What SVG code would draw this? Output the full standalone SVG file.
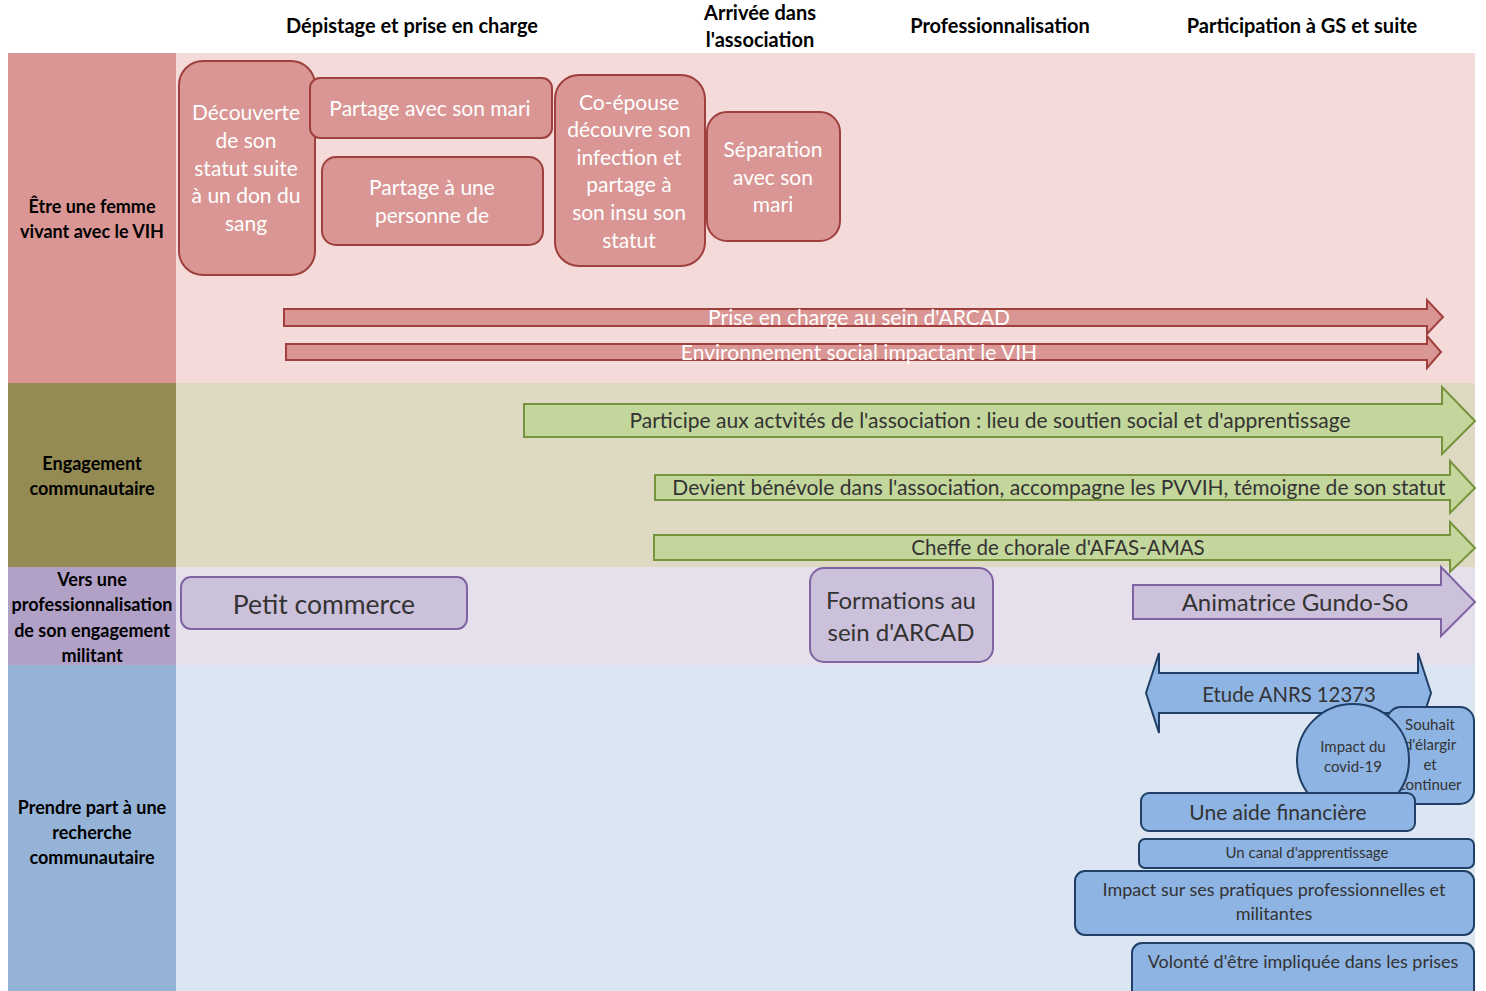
<svg xmlns="http://www.w3.org/2000/svg" width="1486" height="991" viewBox="0 0 1486 991">
<style>
text{font-family:Lato,"Liberation Sans",sans-serif;text-anchor:middle}
.hd{font-weight:bold;font-size:20px;fill:#000}
.lb{font-weight:bold;font-size:18px;fill:#000}
.rn{fill:#D99694;stroke:#A0403E;stroke-width:2}
.rt{fill:#fff;font-size:21px}
.ga{fill:#C3D69B;stroke:#77933C;stroke-width:2}
.gt{fill:#333;font-size:21px}
.pn{fill:#CCC1DA;stroke:#8064A2;stroke-width:2}
.pt{fill:#333;font-size:24px}
.bn{fill:#8EB4E3;stroke:#1F3F66;stroke-width:2}
.bt{fill:#333}
</style>
<rect width="1486" height="991" fill="#fff"/>
<g id="bands">
<rect x="176" y="53" width="1299" height="330" fill="#F4DAD9"/>
<rect x="176" y="383" width="1299" height="184" fill="#DDD9C3"/>
<rect x="176" y="567" width="1299" height="98" fill="#E5E0EC"/>
<rect x="176" y="665" width="1299" height="326" fill="#DCE6F2"/>
<rect x="8" y="53" width="168" height="330" fill="#D99694"/>
<rect x="8" y="383" width="168" height="184" fill="#948A54"/>
<rect x="8" y="567" width="168" height="98" fill="#B2A1C7"/>
<rect x="8" y="665" width="168" height="326" fill="#95B3D7"/>
</g>
<g id="headers">
<text class="hd" x="412" y="33">Dépistage et prise en charge</text>
<text class="hd" x="760" y="20">Arrivée dans</text>
<text class="hd" x="760" y="47">l'association</text>
<text class="hd" x="1000" y="33">Professionnalisation</text>
<text class="hd" x="1302" y="33">Participation à GS et suite</text>
</g>
<g id="row-labels">
<text class="lb" x="92" y="213">Être une femme</text>
<text class="lb" x="92" y="238">vivant avec le VIH</text>
<text class="lb" x="92" y="470">Engagement</text>
<text class="lb" x="92" y="495">communautaire</text>
<text class="lb" x="92" y="586">Vers une</text>
<text class="lb" x="92" y="611">professionnalisation</text>
<text class="lb" x="92" y="637">de son engagement</text>
<text class="lb" x="92" y="662">militant</text>
<text class="lb" x="92" y="814">Prendre part à une</text>
<text class="lb" x="92" y="839">recherche</text>
<text class="lb" x="92" y="864">communautaire</text>
</g>
<g id="node-decouverte">
<rect class="rn" x="179" y="61" width="136" height="214" rx="24"/>
<text class="rt" x="246" y="120">Découverte</text>
<text class="rt" x="246" y="148">de son</text>
<text class="rt" x="246" y="176">statut suite</text>
<text class="rt" x="246" y="203">à un don du</text>
<text class="rt" x="246" y="231">sang</text>
</g>
<g id="node-partage-mari">
<rect class="rn" x="310" y="78" width="242" height="60" rx="10"/>
<text class="rt" x="430" y="116">Partage avec son mari</text>
</g>
<g id="node-partage-personne">
<rect class="rn" x="322" y="157" width="221" height="88" rx="14"/>
<text class="rt" x="432" y="195">Partage à une</text>
<text class="rt" x="432" y="223">personne de</text>
</g>
<g id="node-coepouse">
<rect class="rn" x="555" y="75" width="150" height="191" rx="24"/>
<text class="rt" x="629" y="110">Co-épouse</text>
<text class="rt" x="629" y="137">découvre son</text>
<text class="rt" x="629" y="165">infection et</text>
<text class="rt" x="629" y="192">partage à</text>
<text class="rt" x="629" y="220">son insu son</text>
<text class="rt" x="629" y="248">statut</text>
</g>
<g id="node-separation">
<rect class="rn" x="707" y="112" width="133" height="129" rx="20"/>
<text class="rt" x="773" y="157">Séparation</text>
<text class="rt" x="773" y="185">avec son</text>
<text class="rt" x="773" y="212">mari</text>
</g>
<g id="arrow-prise">
<polygon class="rn" points="284,309 1427,309 1427,300 1443,317 1427,334 1427,326 284,326"/>
<text class="rt" x="859" y="325">Prise en charge au sein d'ARCAD</text>
</g>
<g id="arrow-environnement">
<polygon class="rn" points="286,344 1427,344 1427,336 1441,352 1427,368 1427,360 286,360"/>
<text class="rt" x="859" y="360">Environnement social impactant le VIH</text>
</g>
<g id="arrow-participe">
<polygon class="ga" points="524,404 1442,404 1442,387 1475,421 1442,454 1442,437 524,437"/>
<text class="gt" x="990" y="428">Participe aux actvités de l'association : lieu de soutien social et d'apprentissage</text>
</g>
<g id="arrow-benevole">
<polygon class="ga" points="655,475 1450,475 1450,461 1475,488 1450,513 1450,500 655,500"/>
<text class="gt" x="1059" y="495">Devient bénévole dans l'association, accompagne les PVVIH, témoigne de son statut</text>
</g>
<g id="arrow-chorale">
<polygon class="ga" points="654,535 1450,535 1450,522 1475,548 1450,572 1450,560 654,560"/>
<text class="gt" x="1058" y="555" style="font-size:20.5px">Cheffe de chorale d'AFAS-AMAS</text>
</g>
<g id="node-petit-commerce">
<rect class="pn" x="181" y="577" width="286" height="52" rx="10"/>
<text class="pt" x="324" y="614" style="font-size:26.5px">Petit commerce</text>
</g>
<g id="node-formations">
<rect class="pn" x="810" y="568" width="183" height="94" rx="14"/>
<text class="pt" x="901" y="609">Formations au</text>
<text class="pt" x="901" y="641">sein d'ARCAD</text>
</g>
<g id="arrow-animatrice">
<polygon class="pn" points="1133,585 1441,585 1441,567 1475,602 1441,636 1441,619 1133,619"/>
<text class="pt" x="1295" y="611">Animatrice Gundo-So</text>
</g>
<g id="arrow-etude">
<polygon class="bn" points="1146,693 1159,653 1159,673 1418,673 1418,653 1431,693 1418,733 1418,713 1159,713 1159,733"/>
<text class="bt" x="1289" y="702" style="font-size:20.3px">Etude ANRS 12373</text>
</g>
<g id="node-souhait">
<rect class="bn" x="1387" y="707" width="87" height="97" rx="14"/>
<text class="bt" x="1430" y="730" style="font-size:15px">Souhait</text>
<text class="bt" x="1430" y="750" style="font-size:15px">d'élargir</text>
<text class="bt" x="1430" y="770" style="font-size:15px">et</text>
<text class="bt" x="1430" y="790" style="font-size:15px">continuer</text>
</g>
<g id="node-covid">
<circle class="bn" cx="1353" cy="760" r="56"/>
<text class="bt" x="1353" y="752" style="font-size:15px">Impact du</text>
<text class="bt" x="1353" y="772" style="font-size:15px">covid-19</text>
</g>
<g id="node-aide">
<rect class="bn" x="1141" y="793" width="274" height="38" rx="8"/>
<text class="bt" x="1278" y="820" style="font-size:21px">Une aide financière</text>
</g>
<g id="node-canal">
<rect class="bn" x="1139" y="839" width="335" height="29" rx="6"/>
<text class="bt" x="1307" y="858" style="font-size:15px">Un canal d'apprentissage</text>
</g>
<g id="node-impact">
<rect class="bn" x="1075" y="871" width="399" height="64" rx="10"/>
<text class="bt" x="1274" y="896" style="font-size:18px">Impact sur ses pratiques professionnelles et</text>
<text class="bt" x="1274" y="920" style="font-size:18px">militantes</text>
</g>
<g id="node-volonte">
<rect class="bn" x="1132" y="943" width="342" height="62" rx="10"/>
<text class="bt" x="1303" y="968" style="font-size:18px">Volonté d'être impliquée dans les prises</text>
</g>
<g id="connectors"></g>
</svg>
